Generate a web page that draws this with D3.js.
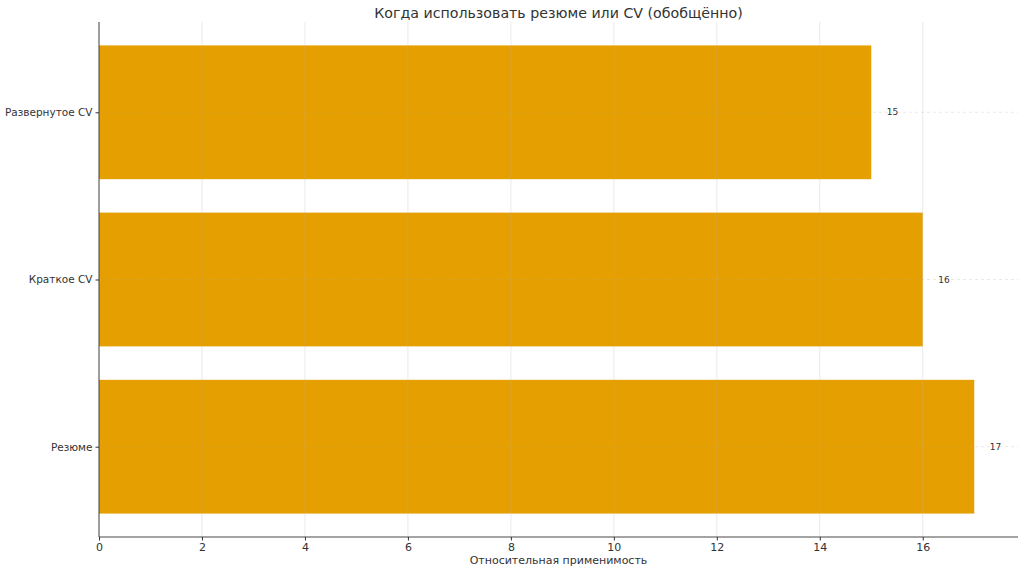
<!DOCTYPE html>
<html><head><meta charset="utf-8">
<script src="https://cdn.jsdelivr.net/npm/d3@7"></script>
<style>body{margin:0;background:#fff}svg{display:block}text{font-family:"DejaVu Sans",sans-serif}</style>
</head><body><svg id="c" width="1024" height="573"></svg>
<script>
const categories = ["Резюме", "Краткое CV", "Развернутое CV"];
const values = [17, 16, 15];
const xTicks = [0, 2, 4, 6, 8, 10, 12, 14, 16];
const title = "Когда использовать резюме или CV (обобщённо)";
const xLabel = "Относительная применимость";

const svg = d3.select("#c");
const L = 99, R = 1018, T = 22, B = 537;
const x = d3.scaleLinear().domain([0, 17.85]).range([L, R]);
const y = d3.scaleLinear().domain([-0.54, 2.54]).range([B, T]);
const bh = y(0) - y(0.8);

// bars
svg.selectAll("rect.bar").data(values).join("rect")
  .attr("x", x(0)).attr("y", (d, i) => y(i) - bh / 2)
  .attr("width", d => x(d) - x(0)).attr("height", bh)
  .attr("fill", "#E69F00");

// grid
const g = svg.append("g").attr("stroke", "#b0b0b0").attr("stroke-opacity", 0.35).attr("stroke-width", 0.8);
xTicks.forEach(t => g.append("line").attr("x1", x(t)).attr("x2", x(t)).attr("y1", T).attr("y2", B));
categories.forEach((c, i) => g.append("line").attr("x1", L).attr("x2", R).attr("y1", y(i)).attr("y2", y(i)).attr("stroke-dasharray", "3,3"));

// axes
const xa = svg.append("g").attr("transform", `translate(0,${B})`)
  .call(d3.axisBottom(x).tickValues(xTicks).tickSize(3.5).tickPadding(3));
const ya = svg.append("g").attr("transform", `translate(${L},0)`)
  .call(d3.axisLeft(y).tickValues(categories.map((c, i) => i)).tickFormat(i => categories[i]).tickSize(3.5).tickPadding(3));
[xa, ya].forEach(a => {
  a.select(".domain").attr("stroke", "#333").attr("stroke-width", 0.9);
  a.selectAll(".tick line").attr("stroke", "#333");
  a.selectAll(".tick text").attr("fill", "#333").attr("font-size", 11).style("font-family", '"DejaVu Sans",sans-serif');
});
ya.selectAll(".tick text").attr("font-size", 10.5);
xa.select(".domain").attr("d", `M${L},0H${R}`);
ya.select(".domain").attr("d", `M0,${B}V${T}`);

// value labels
svg.selectAll("text.val").data(values).join("text")
  .attr("x", d => x(d + 0.3)).attr("y", (d, i) => y(i))
  .attr("dy", "0.35em").attr("font-size", 9).attr("fill", "#333").text(d => d);

// title & label
svg.append("text").attr("x", (L + R) / 2).attr("y", 18).attr("text-anchor", "middle")
  .attr("font-size", 14.2).attr("fill", "#333").text(title);
svg.append("text").attr("x", (L + R) / 2).attr("y", 564).attr("text-anchor", "middle")
  .attr("font-size", 11).attr("fill", "#333").text(xLabel);
</script></body></html>
